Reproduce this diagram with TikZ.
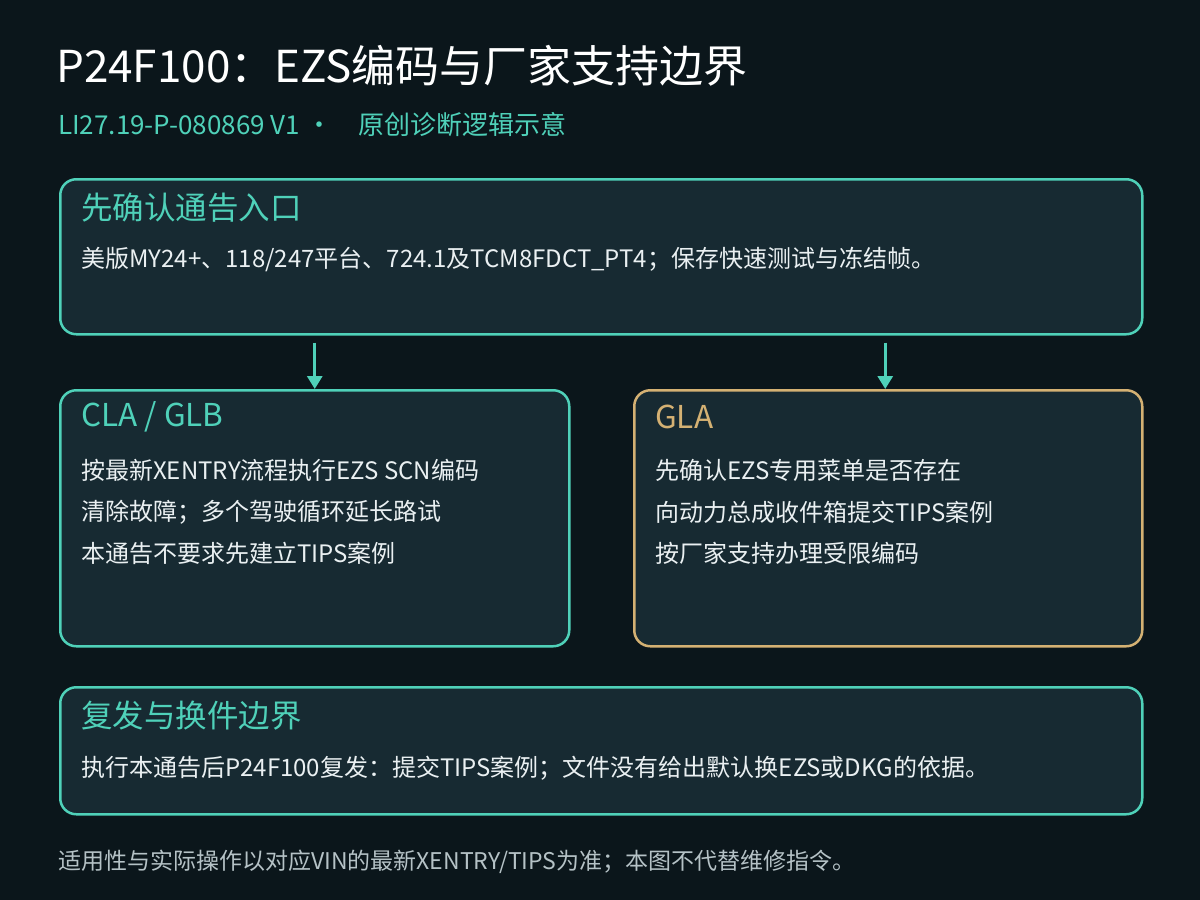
\documentclass[tikz,border=0pt]{standalone}
\usepackage{fontspec}
\setmainfont{Noto Sans CJK SC}
\usetikzlibrary{arrows.meta,positioning}
\definecolor{bgdark}{HTML}{0B161B}
\definecolor{cardfill}{HTML}{172A32}
\definecolor{teal}{HTML}{4FD1B9}
\definecolor{gold}{HTML}{D4B173}
\definecolor{bodytext}{HTML}{EAF0F2}
\definecolor{notegray}{HTML}{B5C2C6}
\tikzset{
  card/.style={draw=teal,line width=2.5pt,fill=cardfill,rounded corners=16pt,anchor=north west,inner sep=0pt},
  goldcard/.style={card,draw=gold},
  head/.style={anchor=west,inner sep=0pt,text=teal,font=\fontsize{31.5}{36}\selectfont},
  body/.style={anchor=west,inner sep=0pt,text=bodytext,font=\fontsize{24}{28}\selectfont},
  flow/.style={draw=teal,line width=3pt,-{Triangle[length=13pt,width=15pt]}}
}
\begin{document}
\begin{tikzpicture}[x=1pt,y=-1pt]
        \fill[bgdark] (0,0) rectangle (1200,900);
        \useasboundingbox (0,0) rectangle (1200,900);
        % Title
        \node[anchor=west,inner sep=0pt,text=white,font=\fontsize{44}{50}\selectfont] (title) at (56,66) {P24F100：EZS编码与厂家支持边界};
        \node[anchor=west,inner sep=0pt,text=teal,font=\fontsize{26}{30}\selectfont] (subtitle) at (58,125) {LI27.19-P-080869 V1 ·\quad 原创诊断逻辑示意};
        % Entry card
        \node[card,minimum width=1082pt,minimum height=155pt] (entry) at (59,178) {};
        \node[head] (entryhead) at (81,208) {先确认通告入口};
        \node[body] (entrybody) at (81,259) {美版MY24+、118/247平台、724.1及TCM8FDCT\_PT4；保存快速测试与冻结帧。};
        % CLA / GLB card
        \node[card,minimum width=509pt,minimum height=256pt] (cla) at (59,389) {};
        \node[head] (clahead) at (81,417) {CLA / GLB};
        \node[body] (claone) at (81,470) {按最新XENTRY流程执行EZS SCN编码};
        \node[body] (clatwo) at (81,512) {清除故障；多个驾驶循环延长路试};
        \node[body] (clathree) at (81,553) {本通告不要求先建立TIPS案例};
        % GLA card
        \node[goldcard,minimum width=508pt,minimum height=256pt] (gla) at (633,389) {};
        \node[head,text=gold] (glahead) at (655,417) {GLA};
        \node[body] (glaone) at (655,470) {先确认EZS专用菜单是否存在};
        \node[body] (glatwo) at (655,512) {向动力总成收件箱提交TIPS案例};
        \node[body] (glathree) at (655,553) {按厂家支持办理受限编码};
        % Recurrence card
        \node[card,minimum width=1082pt,minimum height=127pt] (recur) at (59,686) {};
        \node[head] (recurhead) at (81,716) {复发与换件边界};
        \node[body] (recurbody) at (81,768) {执行本通告后P24F100复发：提交TIPS案例；文件没有给出默认换EZS或DKG的依据。};
        % Arrows
        \draw[flow,shorten <=7pt] (cla.north |- entry.south) -- (cla.north);
        \draw[flow,shorten <=7pt] ([xshift=-3pt]gla.north |- entry.south) -- ([xshift=-3pt]gla.north);
        % Footer
        \node[anchor=west,inner sep=0pt,text=notegray,font=\fontsize{23}{27}\selectfont] (footer) at (58,862) {适用性与实际操作以对应VIN的最新XENTRY/TIPS为准；本图不代替维修指令。};
\end{tikzpicture}
\end{document}
